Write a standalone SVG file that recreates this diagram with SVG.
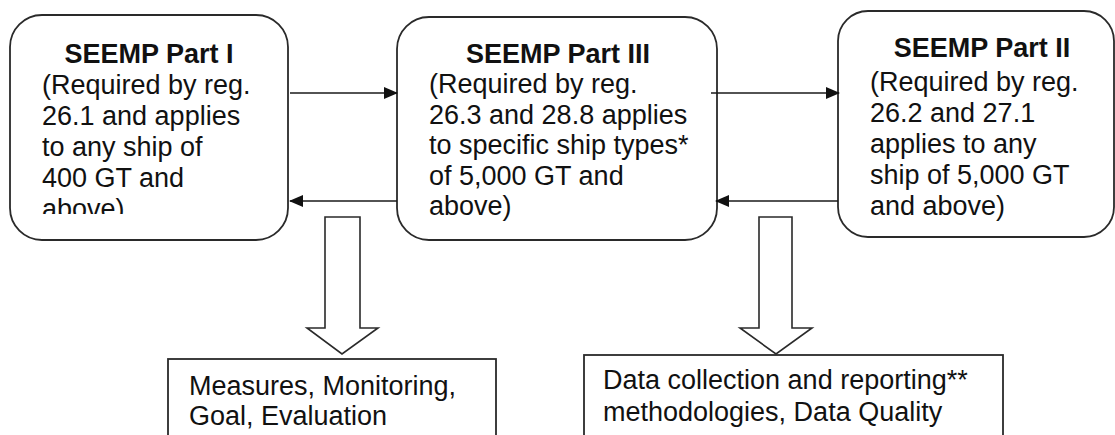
<svg xmlns="http://www.w3.org/2000/svg" width="1115" height="435" viewBox="0 0 1115 435">
  <style>
    .box { fill: #ffffff; stroke: #2a2a2a; stroke-width: 1.8; }
    .link { fill: none; stroke: #1a1a1a; stroke-width: 1.6; }
    .block { fill: #ffffff; stroke: #2a2a2a; stroke-width: 1.6; }
    text { font-family: "Liberation Sans", Arial, sans-serif; font-size: 27px; fill: #111111; }
    .title { font-weight: bold; text-anchor: middle; }
  </style>
  <defs>
    <marker id="head" viewBox="0 0 14 12" refX="13" refY="6" markerWidth="14" markerHeight="12" markerUnits="userSpaceOnUse" orient="auto">
      <path d="M0,0 L14,6 L0,12 Z" fill="#111111"/>
    </marker>
    <clipPath id="clip-part1">
      <rect x="10" y="15" width="278" height="199"/>
    </clipPath>
  </defs>

  <!-- SEEMP Part I -->
  <g id="part1">
    <rect class="box" x="10" y="15" width="278" height="225" rx="32" ry="32"/>
    <text class="title" x="149" y="63">SEEMP Part I</text>
    <g clip-path="url(#clip-part1)">
      <text x="42" y="94">(Required by reg.</text>
      <text x="42" y="125">26.1 and applies</text>
      <text x="42" y="156">to any ship of</text>
      <text x="42" y="187">400 GT and</text>
      <text x="42" y="218">above)</text>
    </g>
  </g>

  <!-- SEEMP Part III -->
  <g id="part3">
    <rect class="box" x="397" y="17" width="320" height="223" rx="32" ry="32"/>
    <text class="title" x="558" y="63">SEEMP Part III</text>
    <text x="429" y="93">(Required by reg.</text>
    <text x="429" y="124">26.3 and 28.8 applies</text>
    <text x="429" y="154">to specific ship types*</text>
    <text x="429" y="185">of 5,000 GT and</text>
    <text x="429" y="215">above)</text>
  </g>

  <!-- SEEMP Part II -->
  <g id="part2">
    <rect class="box" x="838" y="11" width="276" height="226" rx="30" ry="30"/>
    <text class="title" x="982" y="57">SEEMP Part II</text>
    <text x="870" y="91">(Required by reg.</text>
    <text x="870" y="122">26.2 and 27.1</text>
    <text x="870" y="153">applies to any</text>
    <text x="870" y="184">ship of 5,000 GT</text>
    <text x="870" y="215">and above)</text>
  </g>

  <!-- Outcome boxes -->
  <g id="outcome1">
    <rect class="box" x="168" y="359" width="328" height="100"/>
    <text x="189" y="395">Measures, Monitoring,</text>
    <text x="189" y="425">Goal, Evaluation</text>
  </g>
  <g id="outcome2">
    <rect class="box" x="584" y="355" width="419" height="104"/>
    <text x="603" y="389">Data collection and reporting**</text>
    <text x="603" y="421">methodologies, Data Quality</text>
  </g>

  <!-- Connectors -->
  <g id="connectors">
    <line class="link" x1="290" y1="93" x2="397" y2="93" marker-end="url(#head)"/>
    <line class="link" x1="397" y1="201" x2="290" y2="201" marker-end="url(#head)"/>
    <line class="link" x1="711" y1="93" x2="839" y2="93" marker-end="url(#head)"/>
    <line class="link" x1="838" y1="201" x2="716" y2="201" marker-end="url(#head)"/>
    <polygon class="block" points="325,217 360,217 360,328 378,328 342,354 307,328 325,328"/>
    <polygon class="block" points="759,217 792,217 792,328 812,328 776,354 740,328 759,328"/>
  </g>
</svg>
